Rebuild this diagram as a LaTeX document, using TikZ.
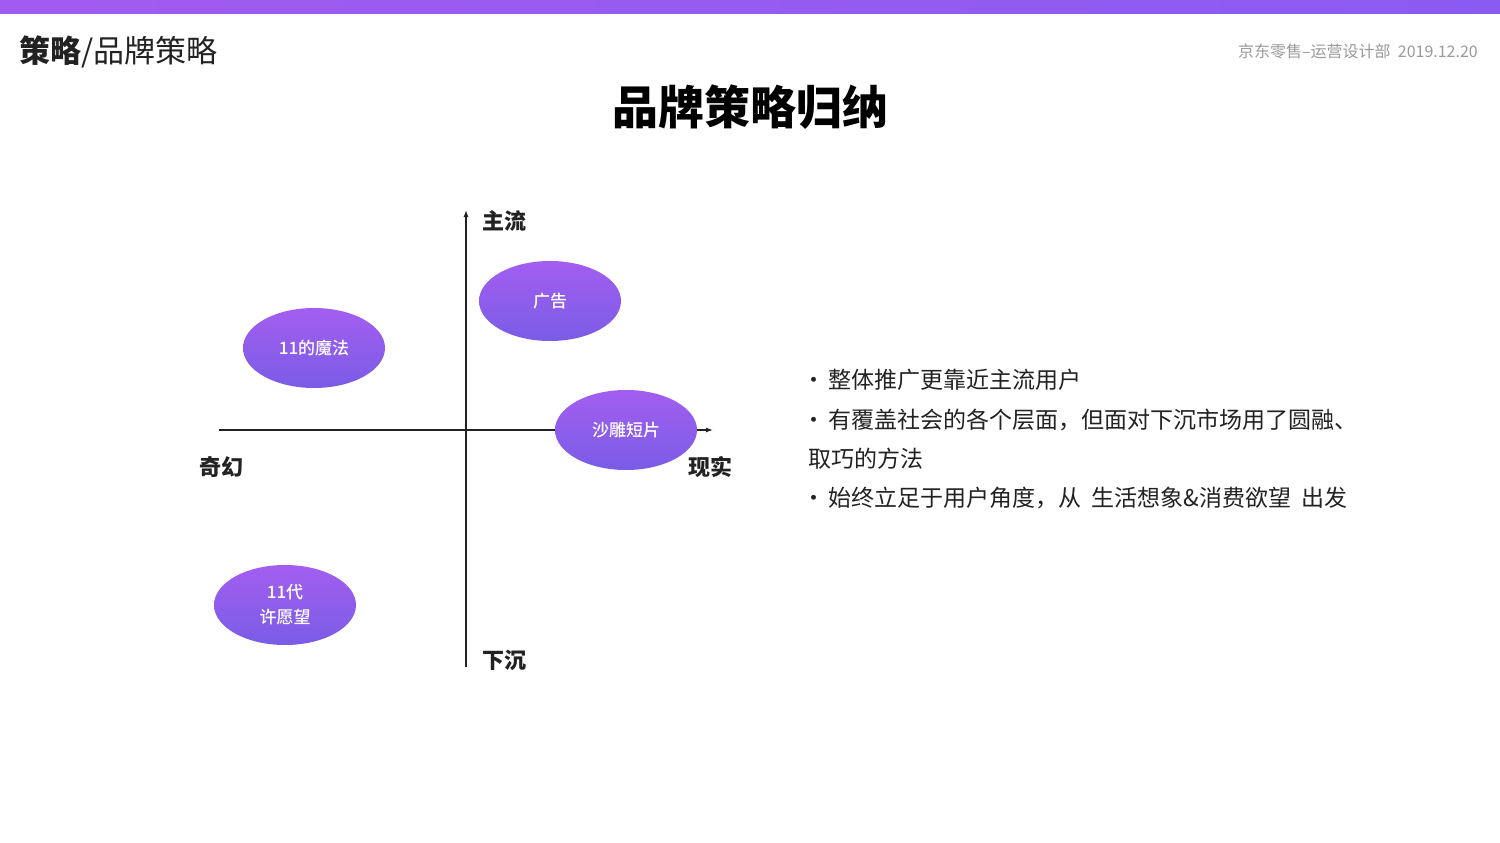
\documentclass[tikz,border=0pt]{standalone}
\usepackage{fontspec}
\setmainfont{Noto Sans CJK SC}
\newfontfamily\medfont{Noto Sans CJK SC Medium}
\usepackage{xcolor}
\usepackage{tikz}
\usetikzlibrary{arrows.meta,shapes.geometric}
\definecolor{barleft}{HTML}{A25BF0}
\definecolor{barright}{HTML}{8A5BF0}
\definecolor{bubbletop}{HTML}{A35EF0}
\definecolor{bubblebottom}{HTML}{7A5CE6}
\definecolor{textdark}{HTML}{222222}
\definecolor{headgray}{HTML}{9A9A9A}
\tikzset{
  axisline/.style={-{Latex[length=7pt,width=5pt]},line width=1.3pt,textdark},
  bubble/.style={ellipse,minimum width=142pt,minimum height=80pt,inner sep=0pt,
    top color=bubbletop,bottom color=bubblebottom,draw=none,text=white,
    font=\medfont\fontsize{17}{25}\selectfont,align=center},
  axislabel/.style={inner sep=0pt,text=textdark,font=\bfseries\fontsize{22}{26}\selectfont},
  point/.style={anchor=west,inner sep=0pt,text=textdark,font=\fontsize{23}{27}\selectfont}
}
\newcommand{\dotmark}{\makebox[20pt][l]{\hspace{-6pt}·}}
\newcommand{\gap}{\hspace{0.45em}}

\begin{document}
\begin{tikzpicture}[x=1pt,y=-1pt]
  \useasboundingbox[fill=white] (0,0) rectangle (1500,843);
  % top bar and header
  \shade[left color=barleft,right color=barright] (0,0) rectangle (1500,14);
  \node[anchor=west,inner sep=0pt,text=textdark,font=\fontsize{31}{35}\selectfont] (crumb) at (19,52)
    {\textbf{策略}/品牌策略};
  \node[anchor=east,inner sep=0pt,text=headgray,font=\fontsize{16}{19}\selectfont] (dept) at (1478,51)
    {京东零售–运营设计部\ \ 2019.12.20};
  \node[inner sep=0pt,text=black,font=\bfseries\fontsize{46}{52}\selectfont] (title) at (750,107)
    {品牌策略归纳};

  % axes
  \coordinate (ybot) at (466,667);
  \coordinate (ytop) at (466,210);
  \coordinate (xleft) at (219,430);
  \coordinate (xright) at (713,430);
  \draw[axisline] (ybot) -- (ytop);
  \draw[axisline] (xleft) -- (xright);
  \node[axislabel] (main) at (504,221) {主流};
  \node[axislabel] (sink) at (504,660) {下沉};
  \node[axislabel] (fantasy) at (221,467) {奇幻};
  \node[axislabel] (real) at (710,467) {现实};

  % bubbles
  \node[bubble] (ad) at (550,301) {广告};
  \node[bubble] (magic) at (314,348) {11的魔法};
  \node[bubble] (funny) at (626,430) {沙雕短片};
  \node[bubble] (wish) at (285,605) {11代\\许愿望};

  % summary
  \node[point] (p1) at (808,380) {\dotmark 整体推广更靠近主流用户};
  \node[point] (p2) at (808,420) {\dotmark 有覆盖社会的各个层面，但面对下沉市场用了圆融、};
  \node[point] (p3) at (808,459) {取巧的方法};
  \node[point] (p4) at (808,498) {\dotmark 始终立足于用户角度，从\gap 生活想象\&消费欲望\gap 出发};
\end{tikzpicture}
\end{document}
